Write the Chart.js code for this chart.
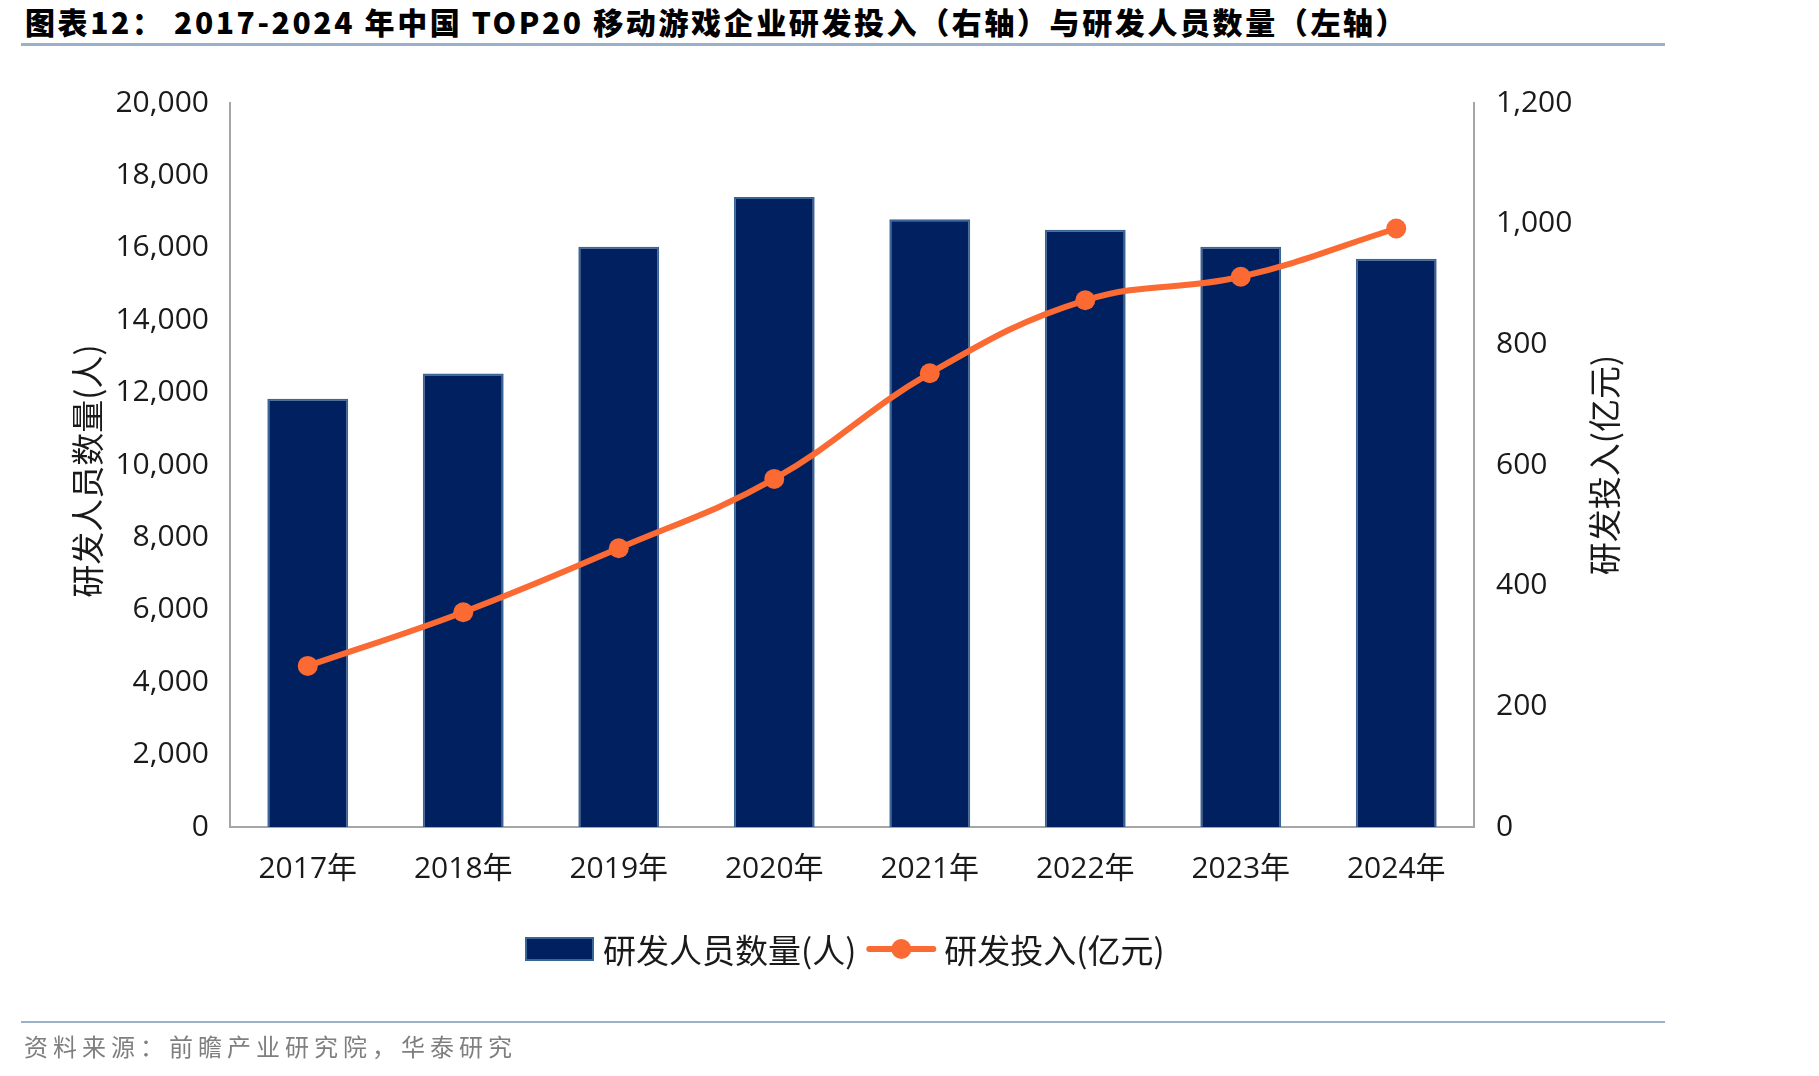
<!DOCTYPE html>
<html><head><meta charset="utf-8">
<script src="https://cdn.jsdelivr.net/npm/chart.js@4/dist/chart.umd.min.js"></script>
<style>
html,body{margin:0;padding:0;background:#fff;width:1819px;height:1076px;overflow:hidden;}
#wrap{position:relative;width:1819px;height:1076px;}
#title{position:absolute;left:25px;top:1px;font-family:"Noto Sans CJK SC";font-weight:900;font-size:30px;line-height:40px;letter-spacing:2.6px;color:#000;white-space:nowrap;}
#tline{position:absolute;left:21px;top:43px;width:1644px;height:3px;background:#9AB1CC;}
#fline{position:absolute;left:21px;top:1021px;width:1644px;height:2px;background:#9AB1CC;}
#foot{position:absolute;left:24px;top:1030px;font-family:"Noto Sans CJK SC";font-size:24px;line-height:32px;color:#7f7f7f;letter-spacing:5px;white-space:nowrap;}
#c{position:absolute;left:0;top:0;}
</style></head>
<body>
<div id="wrap">
<div id="title">图表12： 2017-2024 年中国 TOP20 移动游戏企业研发投入（右轴）与研发人员数量（左轴）</div>
<div id="tline"></div>
<canvas id="c" width="1819" height="1076"></canvas>
<div id="fline"></div>
<div id="foot">资料来源：前瞻产业研究院，华泰研究</div>
</div>
<script>
const categories = ["2017年","2018年","2019年","2020年","2021年","2022年","2023年","2024年"];
const staffCount = [11830, 12530, 16030, 17400, 16790, 16500, 16030, 15700];
const rdSpend = [267, 356, 462, 577, 752, 873, 912, 992];
const staffLabel = "研发人员数量(人)";
const spendLabel = "研发投入(亿元)";
const leftTitle = "研发人员数量(人)";
const rightTitle = "研发投入(亿元)";

const NAVY = "#002060";
const NAVY_EDGE = "#3A6596";
const ORANGE = "#FA6A32";
const AXIS = "#A6A6A6";
const TXT = "#1a1a1a";
const FONT = '"Open Sans", "Noto Sans CJK SC", sans-serif';
const CJK = '"Noto Sans CJK SC", "Open Sans", sans-serif';

const fmt = v => v.toLocaleString('en-US');

const extras = {
  id: 'extras',
  afterDraw(chart) {
    const ctx = chart.ctx;
    const ca = chart.chartArea;
    const midY = (ca.top + ca.bottom) / 2;
    ctx.save();
    ctx.fillStyle = TXT;
    ctx.font = '33px ' + CJK;
    ctx.textAlign = 'center';
    ctx.textBaseline = 'middle';
    ctx.save();
    ctx.translate(87, midY + 6);
    ctx.rotate(-Math.PI / 2);
    ctx.fillText(leftTitle, 0, 0);
    ctx.restore();
    ctx.save();
    ctx.translate(1604, midY);
    ctx.rotate(-Math.PI / 2);
    ctx.fillText(rightTitle, 0, 0);
    ctx.restore();

    const ds = chart.data.datasets;
    const ly = 949;
    let x = 525;
    ctx.textAlign = 'left';
    ctx.font = '33px ' + CJK;
    ctx.fillStyle = ds[0].backgroundColor;
    ctx.fillRect(x, ly - 12, 69, 24);
    ctx.strokeStyle = ds[0].borderColor;
    ctx.lineWidth = 2;
    ctx.strokeRect(x + 1, ly - 11, 67, 22);
    ctx.fillStyle = TXT;
    ctx.fillText(ds[0].label, x + 78, ly + 1);
    x += 78 + ctx.measureText(ds[0].label).width + 10;
    ctx.strokeStyle = ds[1].borderColor;
    ctx.lineWidth = 6;
    ctx.lineCap = 'round';
    ctx.beginPath();
    ctx.moveTo(x + 3, ly);
    ctx.lineTo(x + 67, ly);
    ctx.stroke();
    ctx.fillStyle = ds[1].borderColor;
    ctx.beginPath();
    ctx.arc(x + 35, ly, 10, 0, Math.PI * 2);
    ctx.fill();
    ctx.fillStyle = TXT;
    ctx.fillText(ds[1].label, x + 78, ly + 1);
    ctx.restore();
  }
};

new Chart(document.getElementById('c'), {
  data: {
    labels: categories,
    datasets: [
      {
        type: 'bar',
        label: staffLabel,
        data: staffCount,
        yAxisID: 'y',
        backgroundColor: NAVY,
        borderColor: NAVY_EDGE,
        borderWidth: 2,
        barPercentage: 0.52,
        categoryPercentage: 1.0,
        order: 1
      },
      {
        type: 'line',
        label: spendLabel,
        data: rdSpend,
        yAxisID: 'y1',
        borderColor: ORANGE,
        backgroundColor: ORANGE,
        borderWidth: 6,
        pointRadius: 10,
        pointBackgroundColor: ORANGE,
        pointBorderWidth: 0,
        tension: 0.4,
        order: 0
      }
    ]
  },
  options: {
    responsive: false,
    animation: false,
    devicePixelRatio: 1,
    layout: { padding: { top: 103, left: 0, right: 0, bottom: 0 } },
    plugins: { legend: { display: false }, tooltip: { enabled: false }, title: { display: false } },
    scales: {
      x: {
        position: 'bottom',
        offset: true,
        grid: { display: false, drawTicks: false },
        border: { display: true, color: AXIS, width: 2 },
        ticks: { font: { size: 30, family: FONT }, color: TXT, padding: 24, maxRotation: 0 },
        afterFit: s => { s.height = 249; }
      },
      y: {
        position: 'left',
        min: 0, max: 20000,
        grid: { display: false, drawTicks: false },
        border: { display: true, color: AXIS, width: 2 },
        ticks: { stepSize: 2000, font: { size: 30, family: FONT }, color: TXT, padding: 21, callback: v => fmt(v) },
        afterFit: s => { s.width = 230; }
      },
      y1: {
        position: 'right',
        min: 0, max: 1200,
        grid: { display: false, drawTicks: false },
        border: { display: true, color: AXIS, width: 2 },
        ticks: { stepSize: 200, font: { size: 30, family: FONT }, color: TXT, padding: 22, callback: v => fmt(v) },
        afterFit: s => { s.width = 345; }
      }
    }
  },
  plugins: [extras]
});
</script>
</body></html>
